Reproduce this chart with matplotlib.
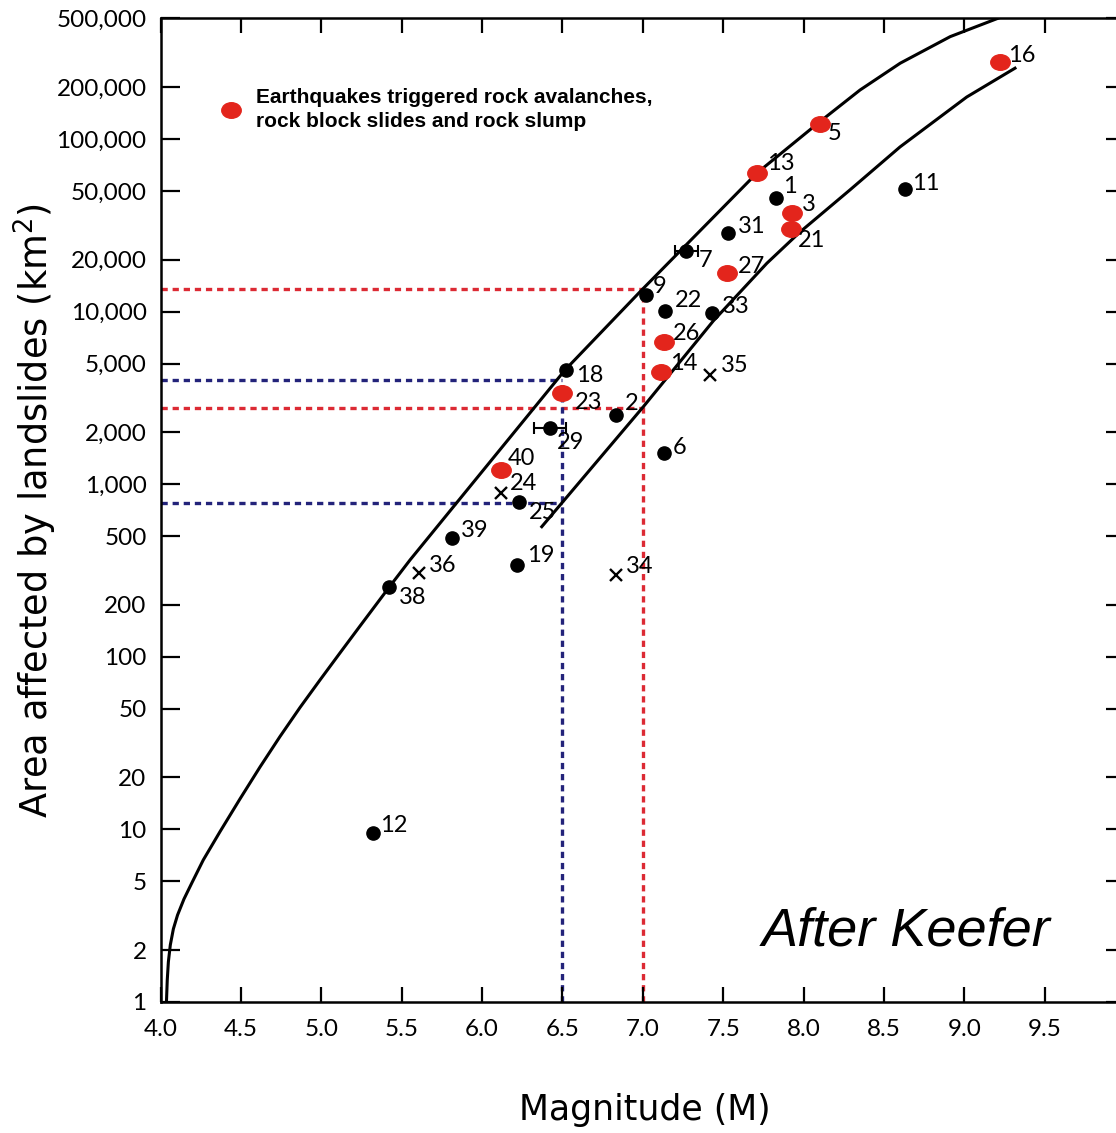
import numpy as np
import matplotlib
matplotlib.use("Agg")
import matplotlib.pyplot as plt
from matplotlib.path import Path
from matplotlib.transforms import Affine2D
from matplotlib.lines import Line2D
from matplotlib.ticker import NullLocator

# ---------------- data ----------------
# upper bound curve
upper_M = [4.037, 4.042, 4.049, 4.061, 4.080, 4.106, 4.146, 4.196, 4.266, 4.370,
           4.494, 4.619, 4.743, 4.868, 4.992, 5.116, 5.241, 5.417, 5.552, 5.940,
           6.516, 6.993, 7.708, 8.101, 8.350, 8.600, 8.911, 9.290]
upper_A = [1.0, 1.34, 1.71, 2.14, 2.65, 3.19, 3.95, 4.92, 6.65, 9.70,
           15.0, 23.0, 34.5, 50.9, 73.4, 105.2, 150.8, 249.4, 364, 1010,
           4590, 13340, 63300, 126000, 192000, 274600, 391500, 535000]

# lower bound curve
lower_M = [6.371, 7.003, 7.438, 7.771, 7.977, 8.288, 8.599, 9.014, 9.314]
lower_A = [567, 2812, 8830, 19050, 28900, 50700, 89900, 175000, 257000]

# black dots
black_labels = ['1', '2', '6', '7', '9', '11', '12', '18', '19', '22', '25', '29',
                '31', '33', '38', '39']
black_M = [7.83, 6.83, 7.13, 7.27, 7.02, 8.63, 5.32, 6.52, 6.22, 7.14, 6.23, 6.42,
           7.53, 7.43, 5.42, 5.81]
black_A = [45300, 2520, 1510, 22400, 12400, 51100, 9.5, 4600, 340, 10100, 790, 2110,
           28400, 9770, 255, 486]

# red dots: earthquake-triggered rock avalanches etc.
red_labels = ['3', '5', '13', '14', '16', '21', '23', '26', '27', '40']
red_M = [7.93, 8.10, 7.71, 7.11, 9.22, 7.92, 6.50, 7.13, 7.52, 6.12]
red_A = [37400, 122000, 63300, 4490, 280000, 30000, 3360, 6700, 16700, 1210]

# x marks
x_labels = ['24', '34', '35', '36']
x_M = [6.12, 6.83, 7.42, 5.61]
x_A = [885, 298, 4300, 306]

# horizontal error bars (label, M low, M high)
err_labels = ['29', '7']
err_lo = [6.32, 7.20]
err_hi = [6.52, 7.34]

# reference guide lines
red_M_ref = 7.0
red_A_ref = [13500, 2750]
blue_M_ref = 6.5
blue_A_ref = [4000, 780]

y_ticks = [1, 2, 5, 10, 20, 50, 100, 200, 500, 1000, 2000, 5000, 10000, 20000,
           50000, 100000, 200000, 500000]
x_ticks = [4.0, 4.5, 5.0, 5.5, 6.0, 6.5, 7.0, 7.5, 8.0, 8.5, 9.0, 9.5]

legend_text = "Earthquakes triggered rock avalanches,\nrock block slides and rock slump"

# label offsets (pixels: right, down) relative to the marker
label_offsets = {
    '1': (7, -12), '2': (9, -11), '3': (9, -8), '5': (8, 9), '6': (9, -6),
    '7': (12, 9), '9': (7, -9), '11': (7, -6), '12': (7, -8), '13': (10, -10),
    '14': (9, -8), '16': (8, -6), '18': (10, 6), '19': (10, -10), '21': (7, 11),
    '22': (9, -10), '23': (12, 9), '24': (8, -10), '25': (10, 11), '26': (9, -8),
    '27': (11, -7), '29': (7, 14), '31': (10, -7), '33': (10, -7), '34': (10, -8),
    '35': (10, -9), '36': (10, -7), '38': (10, 11), '39': (9, -8), '40': (6, -11),
}

# ---------------- styling ----------------
plt.rcParams['font.family'] = ['Lato', 'DejaVu Sans']
plt.rcParams['lines.scale_dashes'] = False

W, H = 1116, 1133
fig = plt.figure(figsize=(W / 100, H / 100), dpi=100)
x0_px, x1_px = 160.5, 1125.3
ytop_px, ybot_px = 18.3, 1002.0
ax = fig.add_axes([x0_px / W, (H - ybot_px) / H, (x1_px - x0_px) / W, (ybot_px - ytop_px) / H])
ax.set_yscale('log')
ax.set_xlim(4.0, 10.0)
ax.set_ylim(1, 500000)

RED = '#e3251c'
DRED = '#dc2a34'
NAVY = '#23237a'

# guide lines
dash = (4.5, 3.5)
for a in red_A_ref:
    ax.plot([4.0, red_M_ref], [a, a], color=DRED, lw=2.4, dashes=dash, zorder=1)
ax.plot([red_M_ref, red_M_ref], [1, max(red_A_ref)], color=DRED, lw=2.4, dashes=dash, zorder=1)
for a in blue_A_ref:
    ax.plot([4.0, blue_M_ref], [a, a], color=NAVY, lw=2.4, dashes=dash, zorder=1)
ax.plot([blue_M_ref, blue_M_ref], [1, max(blue_A_ref)], color=NAVY, lw=2.4, dashes=dash, zorder=1)

# bounding curves
ax.plot(upper_M, upper_A, color='black', lw=2.2, zorder=2, solid_joinstyle='round')
ax.plot(lower_M, lower_A, color='black', lw=2.2, zorder=2, solid_joinstyle='round')

# error bars
for lbl, lo, hi in zip(err_labels, err_lo, err_hi):
    i = black_labels.index(lbl)
    m, a = black_M[i], black_A[i]
    ax.errorbar([m], [a], xerr=[[m - lo], [hi - m]], fmt='none', ecolor='black',
                elinewidth=1.5, capsize=4, capthick=1.5, zorder=3)

ellipse = Affine2D().scale(1.25, 1.0).transform_path(Path.unit_circle())

ax.plot(black_M, black_A, 'o', color='black', ms=9.5, zorder=4, linestyle='none')
ax.plot(red_M, red_A, marker=ellipse, color=RED, ms=14, zorder=5, linestyle='none')
ax.plot(x_M, x_A, 'x', color='black', ms=8.5, mew=1.7, zorder=4, linestyle='none')

for labels, Ms, As in ((black_labels, black_M, black_A), (red_labels, red_M, red_A),
                       (x_labels, x_M, x_A)):
    for lbl, m, a in zip(labels, Ms, As):
        dx, dy = label_offsets[lbl]
        ax.annotate(lbl, (m, a), xytext=(dx, -dy), textcoords='offset pixels',
                    ha='left', va='center', fontsize=17, color='black', zorder=6)

# axes and ticks
ax.set_xticks(x_ticks)
ax.set_xticklabels([f"{v:.1f}" for v in x_ticks])
ax.set_yticks(y_ticks)
ax.set_yticklabels([f"{v:,}" for v in y_ticks])
ax.yaxis.set_minor_locator(NullLocator())
ax.tick_params(axis='both', direction='in', top=True, right=True, width=1.6,
               labelsize=17.5, colors='black')
ax.tick_params(axis='y', length=14, pad=10)
ax.tick_params(axis='x', length=11, pad=12)
for s in ax.spines.values():
    s.set_linewidth(1.8)

# legend
h = Line2D([], [], marker=ellipse, color=RED, ms=14, linestyle='none')
leg = ax.legend([h], [legend_text], loc='center left',
                bbox_to_anchor=(220.6 / W, 1 - 109.5 / H),
                bbox_transform=fig.transFigure, frameon=False, borderpad=0,
                borderaxespad=0, handlelength=1.0, handletextpad=0.7,
                prop={'family': 'Liberation Sans', 'weight': 'bold', 'size': 15})
for t in leg.get_texts():
    t.set_linespacing(1.38)

# axis titles
fig.text(35 / W, 1 - 510 / H, 'Area affected by landslides (km$^2$)', rotation=90,
         ha='center', va='center', fontsize=26.5, family='DejaVu Sans')
fig.text(645 / W, 1 - 1110 / H, 'Magnitude (M)', ha='center', va='center',
         fontsize=25, family='DejaVu Sans')

fig.text(762 / W, 1 - 946 / H, 'After Keefer', ha='left', va='baseline',
         fontsize=39, fontstyle='italic', family='Liberation Sans')

fig.savefig('out.png', dpi=100)
